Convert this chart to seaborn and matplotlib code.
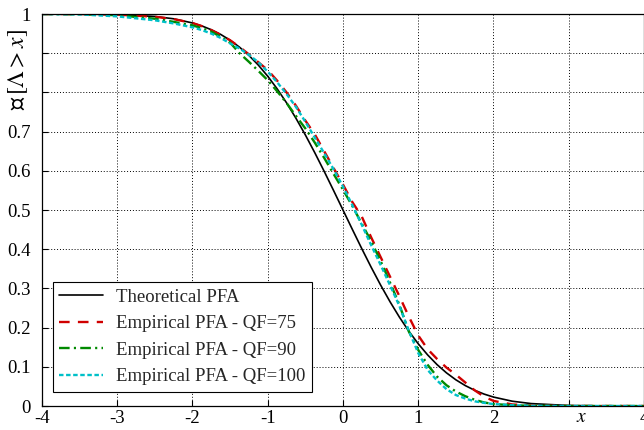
import numpy as np
import pandas as pd
import matplotlib
matplotlib.use("Agg")
import matplotlib.pyplot as plt
import seaborn as sns

# Threshold values x at which the tail probabilities are given
x_vals = [-4.0, -3.5, -3.0, -2.5, -2.25, -2.0, -1.875, -1.75, -1.625, -1.5,
          -1.375, -1.25, -1.125, -1.0, -0.875, -0.75, -0.625, -0.5, -0.375,
          -0.25, -0.125, 0.0, 0.125, 0.25, 0.375, 0.5, 0.625, 0.75, 0.875,
          1.0, 1.125, 1.25, 1.375, 1.5, 1.625, 1.75, 1.875, 2.0, 2.25, 2.5,
          3.0, 3.5, 4.0]

# P[Lambda > x], theoretical
pfa_theory = [1.0000, 0.9998, 0.9987, 0.9938, 0.9878, 0.9772, 0.9696, 0.9599,
              0.9479, 0.9332, 0.9154, 0.8944, 0.8697, 0.8413, 0.8092, 0.7734,
              0.7340, 0.6915, 0.6462, 0.5987, 0.5497, 0.5000, 0.4503, 0.4013,
              0.3538, 0.3085, 0.2660, 0.2266, 0.1908, 0.1587, 0.1303, 0.1056,
              0.0846, 0.0668, 0.0521, 0.0401, 0.0304, 0.0228, 0.0122, 0.0062,
              0.0013, 0.0002, 0.0000]

# Empirical PFA, JPEG quality factor 75
pfa_qf75 = [1.0000, 0.9998, 0.9985, 0.9930, 0.9870, 0.9770, 0.9690, 0.9590,
            0.9470, 0.9330, 0.9160, 0.8970, 0.8770, 0.8570, 0.8300, 0.8000,
            0.7660, 0.7280, 0.6930, 0.6500, 0.6070, 0.5650, 0.5200, 0.4830,
            0.4300, 0.3800, 0.3300, 0.2800, 0.2280, 0.1800, 0.1450, 0.1200,
            0.0980, 0.0800, 0.0600, 0.0400, 0.0240, 0.0130, 0.0040, 0.0010,
            0.0000, 0.0000, 0.0000]

# Empirical PFA, JPEG quality factor 90
pfa_qf90 = [1.0000, 0.9995, 0.9970, 0.9880, 0.9800, 0.9710, 0.9640, 0.9550,
            0.9420, 0.9270, 0.9000, 0.8780, 0.8550, 0.8310, 0.8030, 0.7730,
            0.7400, 0.7080, 0.6720, 0.6330, 0.5920, 0.5520, 0.5100, 0.4650,
            0.4200, 0.3700, 0.3150, 0.2580, 0.1900, 0.1430, 0.1050, 0.0750,
            0.0530, 0.0370, 0.0250, 0.0160, 0.0090, 0.0050, 0.0020, 0.0005,
            0.0000, 0.0000, 0.0000]

# Empirical PFA, JPEG quality factor 100
pfa_qf100 = [1.0000, 0.9990, 0.9940, 0.9840, 0.9760, 0.9660, 0.9590, 0.9500,
             0.9390, 0.9250, 0.9120, 0.8960, 0.8770, 0.8530, 0.8260, 0.7960,
             0.7630, 0.7250, 0.6850, 0.6450, 0.6040, 0.5600, 0.5120, 0.4620,
             0.4100, 0.3600, 0.3080, 0.2550, 0.1920, 0.1350, 0.0920, 0.0650,
             0.0430, 0.0280, 0.0190, 0.0120, 0.0080, 0.0050, 0.0020, 0.0005,
             0.0000, 0.0000, 0.0000]

series_labels = ["Theoretical PFA", "Empirical PFA - QF=75",
                 "Empirical PFA - QF=90", "Empirical PFA - QF=100"]

x_ticks = [-4, -3, -2, -1, 0, 1, 2, 3, 4]
x_ticklabels = ["-4", "-3", "-2", "-1", "0", "1", "2", "", "4"]
y_ticks = [0, 0.1, 0.2, 0.3, 0.4, 0.5, 0.6, 0.7, 0.8, 0.9, 1.0]
y_ticklabels = ["0", "0.1", "0.2", "0.3", "0.4", "0.5", "0.6", "0.7", "", "", "1"]

sns.set_theme(style="ticks")
plt.rcParams["font.family"] = ["Liberation Serif", "DejaVu Serif"]
plt.rcParams["mathtext.fontset"] = "stix"

df = pd.DataFrame({"x": x_vals, "theory": pfa_theory, "qf75": pfa_qf75,
                   "qf90": pfa_qf90, "qf100": pfa_qf100})

fig = plt.figure(figsize=(6.44, 4.30), dpi=100)
ax = fig.add_axes([0.0652, 0.0558, 0.9348, 0.9116])

styles = [
    ("theory", "black", None, 1.2),
    ("qf75", "#d00000", (4.5, 3.5), 1.7),
    ("qf90", "#008a00", (4.5, 1.8, 0.9, 1.8), 1.7),
    ("qf100", "#00c0c8", (1.9, 1.1), 1.7),
]
for (col, color, dash, lw), lab in zip(styles, series_labels):
    line = sns.lineplot(x="x", y=col, data=df, ax=ax, color=color,
                        linewidth=lw, label=lab, estimator=None,
                        sort=False).lines[-1]
    if dash is not None:
        line.set_dashes(dash)

ax.set_xlim(-4, 4)
ax.set_ylim(0, 1)
ax.set_xticks(x_ticks)
ax.set_xticklabels(x_ticklabels)
ax.set_yticks(y_ticks)
ax.set_yticklabels(y_ticklabels)
ax.tick_params(direction="in", length=4, width=0.8, labelsize=13.5,
               colors="black")
ax.tick_params(axis="x", pad=3)
ax.tick_params(axis="y", pad=8)
ax.grid(True, color="black", linestyle=(0, (1, 2)), linewidth=0.7)
for sp in ax.spines.values():
    sp.set_visible(True)
    sp.set_color("black")
    sp.set_linewidth(0.9)

ax.set_ylabel("ℙ" + r"$\,[\Lambda > x]$", fontsize=17, color="black")
ax.yaxis.set_label_coords(-0.02, 0.858)
ax.set_xlabel(r"$x$", fontsize=14, color="black")
ax.xaxis.set_label_coords(0.8965, -0.008)

leg = ax.legend(loc="lower left", bbox_to_anchor=(0.018, 0.036),
                borderaxespad=0, fontsize=13.5, frameon=True, fancybox=False,
                edgecolor="black", framealpha=1, handlelength=2.3,
                handletextpad=0.7, labelspacing=0.5, borderpad=0.35)
leg.get_frame().set_linewidth(0.8)

fig.savefig("out.png", dpi=100)
